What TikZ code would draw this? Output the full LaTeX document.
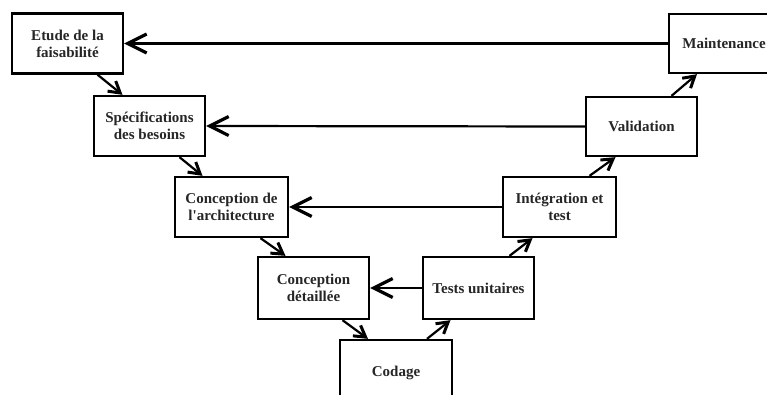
\documentclass[tikz,border=0pt]{standalone}
\usepackage{fontspec}
\setmainfont{Liberation Serif}
\usetikzlibrary{arrows.meta}
\begin{document}
\begin{tikzpicture}[x=1pt,y=-1pt,
  phase/.style={draw=black, line width=2.3pt, minimum width=111pt, minimum height=60pt,
    align=center, inner sep=2pt, font=\bfseries\fontsize{15}{17}\selectfont, text=black!85},
  back/.style={line width=2.2pt, -{Straight Barb[length=19pt,width=19pt,line width=3.2pt]}},
  step arrow/.style={line width=2.2pt, -{Straight Barb[length=11pt,width=13pt,line width=3pt]}}
]
\clip (0,0) rectangle (767,394);
\fill[white] (0,0) rectangle (767,394);
\node[phase] (etude) at (67.5,43.5) {Etude de la\\faisabilité};
\node[phase] (spec) at (149.5,126) {Spécifications\\des besoins};
\node[phase, minimum width=113pt] (arch) at (231.5,207) {Conception de\\l\textquotesingle architecture};
\node[phase, minimum height=62pt] (det) at (313.5,288) {Conception\\détaillée};
\node[phase, minimum width=112pt, minimum height=66pt] (cod) at (396,373) {Codage};
\node[phase, minimum height=62pt] (tu) at (478.5,288) {Tests unitaires};
\node[phase, minimum width=113pt] (integ) at (559.5,207) {Intégration et\\test};
\node[phase, minimum height=59pt] (valid) at (641.5,126.5) {Validation};
\node[phase, minimum width=110pt, minimum height=59pt] (maint) at (724,43.5) {Maintenance};

\draw[step arrow] ([xshift=30pt]etude.south) -- ([xshift=-27pt]spec.north);
\draw[step arrow] ([xshift=30pt]spec.south) -- ([xshift=-29pt]arch.north);
\draw[step arrow] ([xshift=29pt]arch.south) -- ([xshift=-28pt]det.north);
\draw[step arrow] ([xshift=29pt]det.south) -- ([xshift=-28pt]cod.north);
\draw[step arrow] ([xshift=31pt]cod.north) -- ([xshift=-28pt]tu.south);
\draw[step arrow] ([xshift=31pt]tu.north) -- ([xshift=-27pt]integ.south);
\draw[step arrow] ([xshift=30pt]integ.north) -- ([xshift=-26pt]valid.south);
\draw[step arrow] ([xshift=30pt]valid.north) -- ([xshift=-27pt]maint.south);

\draw[back] (maint.west) -- (etude.east);
\draw[back] (valid.west) -- (spec.east);
\draw[back] (integ.west) -- (arch.east);
\draw[back] (tu.west) -- (det.east);
\end{tikzpicture}
\end{document}
